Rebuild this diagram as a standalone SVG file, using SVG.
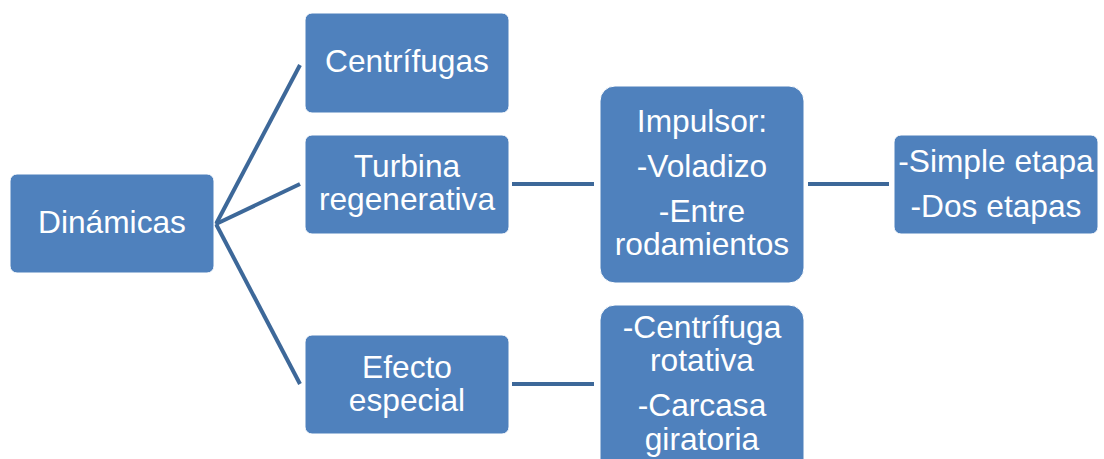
<svg xmlns="http://www.w3.org/2000/svg" width="1104" height="459" viewBox="0 0 1104 459">
<style>
.box{fill:#4f81bd;stroke:#ffffff;stroke-width:1}
.t{font-family:"Liberation Sans",Arial,sans-serif;font-size:31.7px;fill:#ffffff;text-anchor:middle}
.c{stroke:#3d6899;stroke-width:4;fill:none}
</style>
<rect width="1104" height="459" fill="#ffffff"/>
<g id="connectors">
<path class="c" d="M216,224 L300,65"/>
<path class="c" d="M216,224 L300,184"/>
<path class="c" d="M216,224 L300,384"/>
<path class="c" d="M512,184 L594,184"/>
<path class="c" d="M808,184 L889,184"/>
<path class="c" d="M512,384 L594,384"/>
</g>
<g id="n-dinamicas">
<rect class="box" x="10" y="174" width="204" height="99" rx="7"/>
<text class="t" x="112" y="233">Dinámicas</text>
</g>
<g id="n-centrifugas">
<rect class="box" x="305" y="13" width="204" height="100" rx="7"/>
<text class="t" x="407" y="72">Centrífugas</text>
</g>
<g id="n-turbina">
<rect class="box" x="305" y="135" width="204" height="99" rx="7"/>
<text class="t" x="407" y="177">Turbina</text>
<text class="t" x="407" y="210">regenerativa</text>
</g>
<g id="n-efecto">
<rect class="box" x="305" y="335" width="204" height="99" rx="7"/>
<text class="t" x="407" y="378">Efecto</text>
<text class="t" x="407" y="411">especial</text>
</g>
<g id="n-impulsor">
<rect class="box" x="600" y="86" width="204" height="197" rx="15"/>
<text class="t" x="702" y="132">Impulsor:</text>
<text class="t" x="702" y="177">-Voladizo</text>
<text class="t" x="702" y="222">-Entre</text>
<text class="t" x="702" y="255">rodamientos</text>
</g>
<g id="n-etapas">
<rect class="box" x="894" y="135" width="204" height="99" rx="7"/>
<text class="t" x="996" y="172">-Simple etapa</text>
<text class="t" x="996" y="217">-Dos etapas</text>
</g>
<g id="n-centrifuga-rotativa">
<rect class="box" x="600" y="305" width="204" height="197" rx="15"/>
<text class="t" x="702" y="338">-Centrífuga</text>
<text class="t" x="702" y="371">rotativa</text>
<text class="t" x="702" y="416">-Carcasa</text>
<text class="t" x="702" y="450">giratoria</text>
</g>
</svg>
